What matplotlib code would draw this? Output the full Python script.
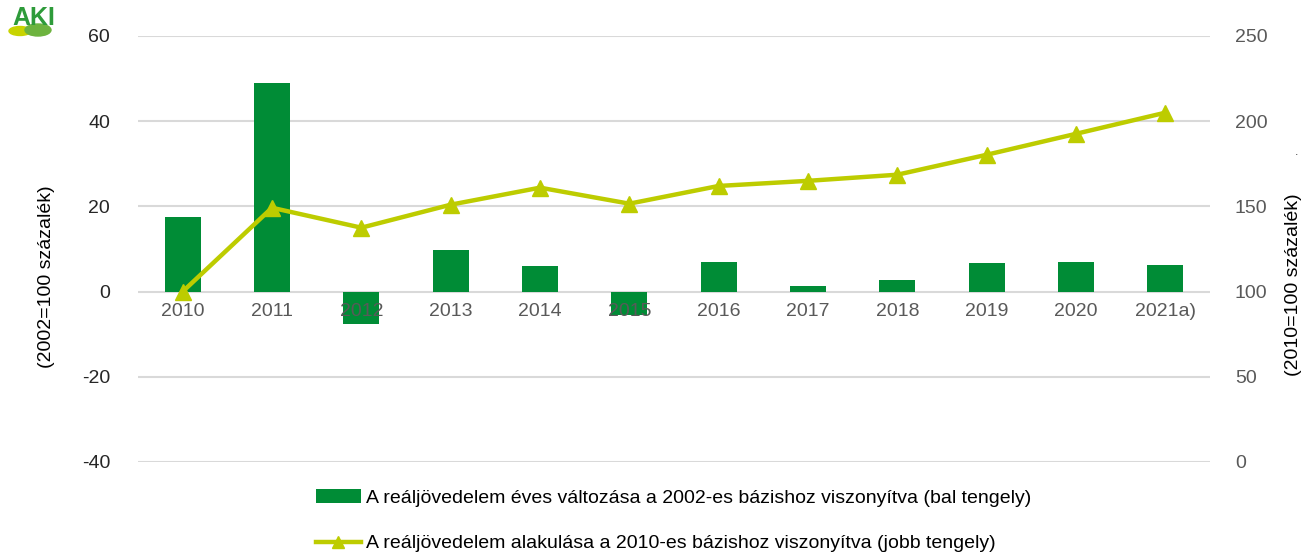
import matplotlib
matplotlib.use("Agg")
import matplotlib.pyplot as plt
from matplotlib.patches import Ellipse
import numpy as np

plt.rcParams['font.family'] = ['Liberation Sans', 'DejaVu Sans']

years = ['2010', '2011', '2012', '2013', '2014', '2015', '2016', '2017', '2018', '2019', '2020', '2021a)']
annual_change = [17.6, 49.0, -7.5, 9.8, 6.1, -5.6, 7.0, 1.4, 2.8, 6.8, 7.0, 6.3]
index_2010 = [100, 149.2, 137.5, 151.0, 161.0, 151.6, 162.0, 165.0, 168.6, 180.3, 192.6, 205.0]
left_ticks = [-40, -20, 0, 20, 40, 60]
right_ticks = [0, 50, 100, 150, 200, 250]

bar_label = 'A reáljövedelem éves változása a 2002-es bázishoz viszonyítva (bal tengely)'
line_label = 'A reáljövedelem alakulása a 2010-es bázishoz viszonyítva (jobb tengely)'

BAR_C = '#008C36'
LINE_C = '#BDCC00'
GRID_C = '#D9D9D9'

W, H = 1306, 554
fig = plt.figure(figsize=(W / 100, H / 100), dpi=100)
ax = fig.add_axes([138 / W, 1 - 462 / H, (1210 - 138) / W, (462 - 36) / H])
x = np.arange(len(years))

bars = ax.bar(x, annual_change, width=0.4, color=BAR_C, zorder=2)
ax.set_xlim(-0.5, len(years) - 0.5)
ax.set_ylim(-40, 60)
ax.set_yticks(left_ticks)
ax.set_yticklabels([str(t) for t in left_ticks])
ax.grid(axis='y', color=GRID_C, linewidth=1.5, zorder=0)
ax.set_axisbelow(True)
for s in ax.spines.values():
    s.set_visible(False)
ax.tick_params(axis='y', length=0, pad=20, labelsize=14, labelcolor='#262626')
ax.set_xticks(x)
ax.set_xticklabels(years)
ax.spines['bottom'].set_position(('data', 0))
ax.tick_params(axis='x', length=0, pad=8, labelsize=14, labelcolor='#595959')
ax.xaxis.set_zorder(5)

ax2 = ax.twinx()
line, = ax2.plot(x, index_2010, color=LINE_C, linewidth=3.2, marker='^', markersize=11,
                 markerfacecolor=LINE_C, markeredgecolor=LINE_C, zorder=3)
ax2.set_ylim(0, 250)
ax2.set_yticks(right_ticks)
ax2.set_yticklabels([str(t) for t in right_ticks])
for s in ax2.spines.values():
    s.set_visible(False)
ax2.tick_params(axis='y', length=0, pad=18, labelsize=14, labelcolor='#595959')

fig.text(47 / W, 1 - 277 / H, '(2002=100 százalék)', rotation=90, ha='center', va='center',
         fontsize=14, color='#000000')
fig.text(1294 / W, 1 - 285 / H, '(2010=100 százalék)', rotation=90, ha='center', va='center',
         fontsize=14, color='#000000')
fig.text(1297 / W, 1 - 152 / H, '.', ha='center', va='center', fontsize=9, color='#404040')

leg = fig.legend([bars, line], [bar_label, line_label], loc='upper left',
                 bbox_to_anchor=(316 / W, 1 - 489 / H), frameon=False, fontsize=14,
                 handlelength=2.3, handletextpad=0.25, labelspacing=1.45, borderpad=0,
                 borderaxespad=0, markerscale=0.75)
for t in leg.get_texts():
    t.set_color('#000000')

# logo
lax = fig.add_axes([0, 1 - 48 / H, 70 / W, 48 / H])
lax.set_xlim(0, 70)
lax.set_ylim(48, 0)
lax.axis('off')
lax.add_patch(Ellipse((20, 31), 22, 9, color='#C8D400'))
lax.add_patch(Ellipse((38, 30), 26, 12, color='#6DB33F'))
lax.text(34, 18, 'AKI', ha='center', va='center', fontsize=18, fontweight='bold',
         color='#2E9B3A')

fig.savefig('out.png', dpi=100)
